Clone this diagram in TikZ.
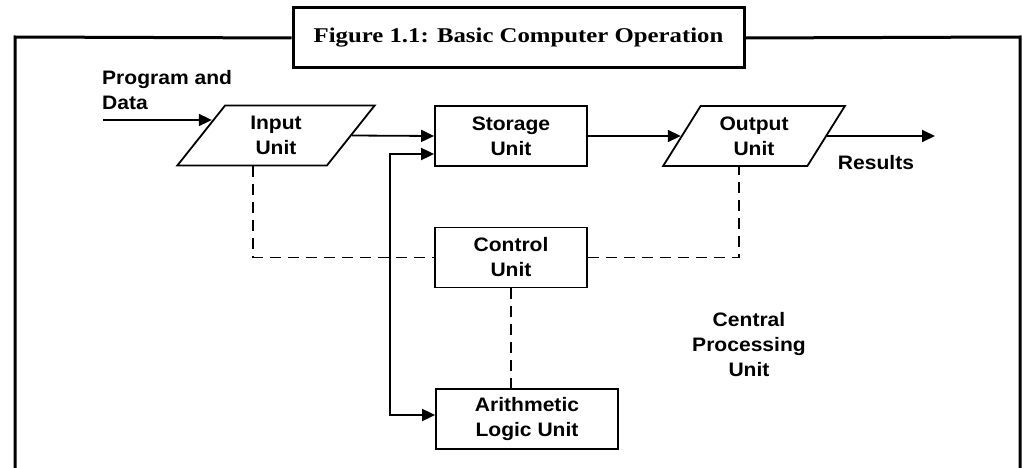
\documentclass[tikz,border=0pt]{standalone}
\usepackage{fontspec}
\setmainfont{Liberation Serif}
\setsansfont{Liberation Sans}
\newfontfamily\titlefont{Liberation Serif}[FakeStretch=1.18]
\newfontfamily\lblfont{Liberation Sans}[FakeStretch=1.08]
\usetikzlibrary{arrows.meta,shapes.geometric}
\begin{document}
\begin{tikzpicture}[x=1pt,y=-1pt,
  lbl/.style={font=\lblfont\bfseries\fontsize{19.5}{25}\selectfont, align=center},
  unitbox/.style={draw, line width=1.8pt, rectangle, minimum width=152pt,
    minimum height=60pt, inner sep=0pt, lbl},
  iobox/.style={draw, line width=1.8pt, trapezium, trapezium left angle=58,
    trapezium right angle=122, trapezium stretches=true,
    minimum height=60pt, inner sep=0pt, lbl},
  tip/.tip={Triangle[length=13pt,width=12pt]},
  flow/.style={line width=1.8pt, -tip},
  ctrl/.style={line width=1.8pt, dash pattern=on 11pt off 7pt},
  frame/.style={line width=3pt}
]
\useasboundingbox (0,0) rectangle (1023,468);

% title box and the open frame hanging from it
\node[draw, frame, fill=white, minimum width=451pt, minimum height=60pt,
  inner sep=0pt, font=\titlefont\bfseries\fontsize{21}{25}\selectfont]
  (title) at (518.5,38) {Figure 1.1: Basic Computer Operation};
\draw[frame] (title.west) -- (15,37) -- (15,470);
\draw[frame] (title.east) -- (1020,37) -- (1020,470);

% units
\node[iobox, minimum width=198pt] (input) at (276,135.5) {Input\\Unit};
\node[unitbox] (storage) at (511,136) {Storage\\Unit};
\node[iobox, minimum width=182pt] (output) at (754,136) {Output\\Unit};
\node[unitbox] (control) at (511,257.5) {Control\\Unit};
\node[unitbox, minimum width=182pt] (alu) at (527,419) {Arithmetic\\Logic Unit};

% free labels
\node[lbl, align=left, anchor=west, inner sep=0pt] (prog) at (102,90) {Program and\\Data};
\node[lbl] (results) at (876,163) {Results};
\node[lbl] (cpu) at (749,345) {Central\\Processing\\Unit};

% data flow
\coordinate (src) at (103,120);
\coordinate (sink) at (935,136);
\coordinate (bus) at (390,415);
\draw[flow] (src) -- (src -| input.167);
\draw[flow] (input.east) -- (storage.west);
\draw[flow] (storage.east) -- (output.west);
\draw[flow] (output.east) -- (sink);
\draw[line width=1.8pt, tip-tip] ([yshift=-18pt]storage.west) -| (bus) -- (bus -| alu.west);

% control signals
\draw[ctrl] ([xshift=-23pt]input.south) |- (control.west);
\draw[ctrl] (control.east) -| ([xshift=-15pt]output.south);
\draw[ctrl] (control.south) -- (control.south |- alu.north);
\end{tikzpicture}
\end{document}
